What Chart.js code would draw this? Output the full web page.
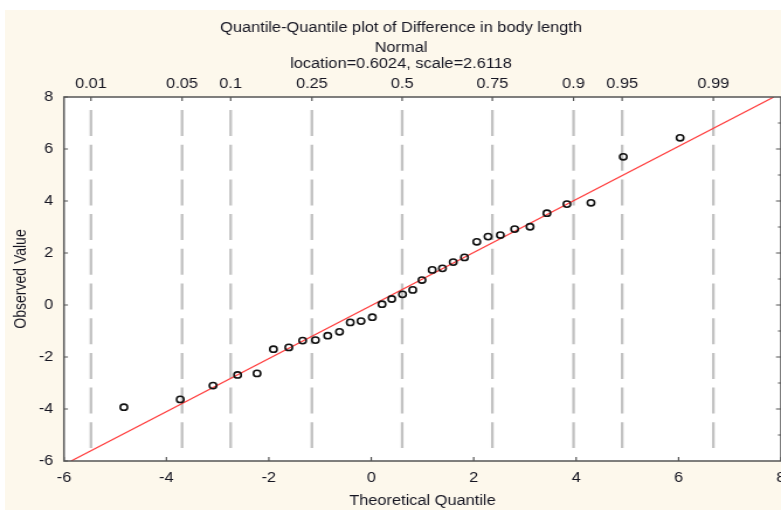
<!DOCTYPE html>
<html>
<head>
<meta charset="utf-8">
<script src="https://cdn.jsdelivr.net/npm/chart.js@4.4.1/dist/chart.umd.min.js"></script>
<style>
  html, body { margin: 0; padding: 0; background: #fff; }
  #fondo { position: absolute; left: 5px; top: 10px; width: 776px; height: 500px; background: #fdf8ec; }
  /* the original picture is wider than it is tall in its text and markers,
     so the canvas is drawn narrower and stretched to 781px */
  #grafico { position: absolute; left: 0; top: 0; width: 781px; height: 510px; }
</style>
</head>
<body>
<div id="fondo"></div>
<canvas id="grafico" width="668" height="510" style="width:781px;height:510px"></canvas>
<script>
// ================= DADOS =================
const titulo = [
  "Quantile-Quantile plot of Difference in body length",
  "Normal",
  "location=0.6024, scale=2.6118"
];

const location_ = 0.6024;
const escala = 2.6118;

// probabilidades do eixo de cima e seus z normais
const probLabels = ["0.01", "0.05", "0.1", "0.25", "0.5", "0.75", "0.9", "0.95", "0.99"];
const zNormal = [-2.3263, -1.6449, -1.2816, -0.6745, 0, 0.6745, 1.2816, 1.6449, 2.3263];

const theoQ = [-4.83, -3.73, -3.09, -2.61, -2.23, -1.91, -1.61, -1.34, -1.09, -0.85, -0.62,
  -0.41, -0.20, 0.02, 0.21, 0.40, 0.61, 0.81, 0.99, 1.19, 1.39, 1.60, 1.82, 2.06, 2.28,
  2.52, 2.80, 3.10, 3.43, 3.82, 4.29, 4.92, 6.03];
const observed = [-3.93, -3.63, -3.10, -2.69, -2.63, -1.70, -1.63, -1.37, -1.35, -1.18, -1.03,
  -0.67, -0.62, -0.47, 0.03, 0.23, 0.41, 0.58, 0.96, 1.35, 1.41, 1.65, 1.83, 2.43, 2.63,
  2.69, 2.92, 3.01, 3.53, 3.88, 3.93, 5.70, 6.43];

// reta de referência (extremos)
const retaX = [-5.86, 7.86];
const retaY = [-6, 8];

const eixoMin = -6;
const eixoMax = 8;

// ================= CONFIG =================
const corTexto = "#161622";
const fonte = '"Liberation Sans", Arial, sans-serif';
Chart.defaults.font.family = fonte;
Chart.defaults.font.size = 14;
Chart.defaults.color = corTexto;

const posQuantis = zNormal.map(z => location_ + escala * z);

const linhasTracejadas = posQuantis.map(q => ({
  type: "line",
  data: [{ x: q, y: 7.5 }, { x: q, y: -5.5 }],
  borderColor: "#c2c2c2",
  borderWidth: 2.3,
  borderDash: [26, 8.7],
  pointRadius: 0,
  order: 2
}));

// sem folga lateral para os rótulos do eixo x
const semFolga = s => { s.paddingLeft = 0; s.paddingRight = 0; };

// ================= MOLDURA, TICKS E TÍTULO =================
const moldura = {
  id: "moldura",
  beforeDraw(chart) {
    const { ctx, chartArea: a } = chart;
    ctx.save();
    ctx.fillStyle = "#ffffff";
    ctx.fillRect(a.left, a.top, a.right - a.left, a.bottom - a.top);
    ctx.restore();
  },
  afterDraw(chart) {
    const { ctx, chartArea: a, scales } = chart;
    ctx.save();
    ctx.strokeStyle = "#555";
    ctx.lineWidth = 1.5;
    ctx.strokeRect(a.left, a.top, a.right - a.left, a.bottom - a.top);

    ctx.lineWidth = 1.2;
    ctx.beginPath();
    scales.y.ticks.forEach(t => {
      const y = scales.y.getPixelForValue(t.value);
      ctx.moveTo(a.left, y); ctx.lineTo(a.left + 3.4, y);
    });
    scales.x.ticks.forEach(t => {
      const x = scales.x.getPixelForValue(t.value);
      ctx.moveTo(x, a.bottom); ctx.lineTo(x, a.bottom - 4);
    });
    scales.x2.ticks.forEach(t => {
      const x = scales.x2.getPixelForValue(t.value);
      ctx.moveTo(x, a.top); ctx.lineTo(x, a.top + 4);
    });
    for (let v = eixoMin + 1; v < eixoMax; v++) {
      const y = scales.y.getPixelForValue(v);
      const len = v % 2 === 0 ? 4.3 : 2.6;
      ctx.moveTo(a.right, y); ctx.lineTo(a.right - len, y);
    }
    ctx.stroke();

    ctx.fillStyle = corTexto;
    ctx.font = "14px " + fonte;
    ctx.textAlign = "center";
    ctx.textBaseline = "alphabetic";
    const base = [32, 52, 68];
    titulo.forEach((t, i) => ctx.fillText(t, 343, base[i]));
    ctx.restore();
  }
};

// ================= GRÁFICO =================
const ctx = document.getElementById("grafico").getContext("2d");

new Chart(ctx, {
  type: "scatter",
  data: {
    datasets: [
      {
        label: "Observed",
        data: theoQ.map((x, i) => ({ x, y: observed[i] })),
        pointStyle: "circle",
        pointRadius: 3.1,
        pointBorderWidth: 1.6,
        pointBorderColor: "#111",
        pointBackgroundColor: "rgba(0,0,0,0)",
        order: 0
      },
      {
        type: "line",
        label: "Normal",
        data: retaX.map((x, i) => ({ x, y: retaY[i] })),
        borderColor: "#ff3c3c",
        borderWidth: 1.2,
        pointRadius: 0,
        order: 1
      },
      ...linhasTracejadas
    ]
  },
  options: {
    responsive: false,
    devicePixelRatio: 1,
    animation: false,
    events: [],
    layout: { autoPadding: false, padding: { top: 70, left: 0, right: -1, bottom: 0 } },
    plugins: {
      legend: { display: false },
      tooltip: { enabled: false },
      title: { display: false }
    },
    scales: {
      x: {
        type: "linear",
        position: "bottom",
        min: eixoMin,
        max: eixoMax,
        ticks: { stepSize: 2, padding: 8.6, autoSkip: false, maxRotation: 0 },
        grid: { display: false, drawTicks: false },
        border: { display: false },
        title: { display: true, text: "Theoretical Quantile", padding: { top: 0, bottom: 0.6 } },
        afterFit(s) { s.height = 49; semFolga(s); }
      },
      x2: {
        type: "linear",
        position: "top",
        min: eixoMin,
        max: eixoMax,
        afterBuildTicks(s) { s.ticks = posQuantis.map(v => ({ value: v })); },
        ticks: {
          padding: 4.5,
          autoSkip: false,
          maxRotation: 0,
          callback: (v, i) => probLabels[i]
        },
        grid: { display: false, drawTicks: false },
        border: { display: false },
        afterFit(s) { s.height = 27; semFolga(s); }
      },
      y: {
        type: "linear",
        position: "left",
        min: eixoMin,
        max: eixoMax,
        ticks: { stepSize: 2, padding: 9.1 },
        grid: { display: false, drawTicks: false },
        border: { display: false },
        title: { display: true, text: "Observed Value", padding: { top: 9.4, bottom: 0 } },
        afterFit(s) { s.width = 54.7; s.paddingTop = 0; s.paddingBottom = 0; }
      }
    }
  },
  plugins: [moldura]
});
</script>
</body>
</html>
